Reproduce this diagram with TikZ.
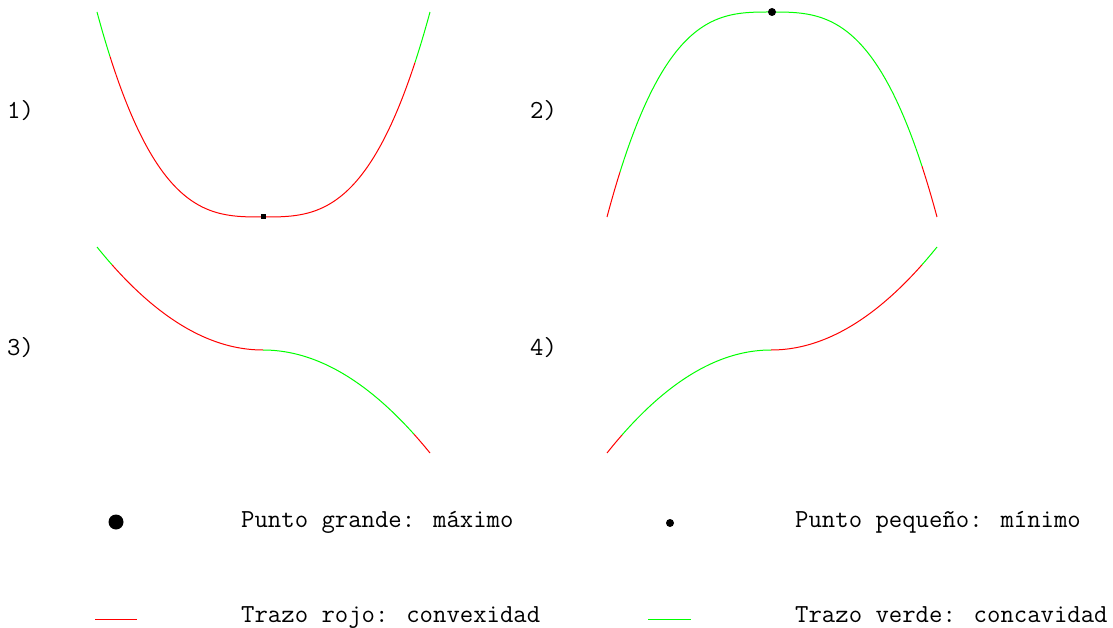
\documentclass[tikz,border=0pt]{standalone}
\begin{document}
\begin{tikzpicture}[x=1pt,y=-1pt,
  curve/.style={line width=1pt},
  conv/.style={curve,draw={rgb,255:red,255;green,0;blue,0}},
  conc/.style={curve,draw={rgb,255:red,0;green,255;blue,0}},
  lbl/.style={inner sep=0pt,anchor=base west,font=\ttfamily\fontsize{26}{30}\selectfont}]
\useasboundingbox (0,0) rectangle (1113,628);

% 1) cubic-like bowl, minimum at (263,217)
\draw[conc] plot[domain=97:110,samples=10] (\x,{217-205*((263-\x)/166)^3});
\draw[conv] plot[domain=110:263,samples=80] (\x,{217-205*((263-\x)/166)^3});
\draw[conv] plot[domain=263:415,samples=80] (\x,{217-205*((\x-263)/167)^3});
\draw[conc] plot[domain=415:430,samples=10] (\x,{217-205*((\x-263)/167)^3});
\node[fill=black,minimum size=5pt,inner sep=0pt] (min1) at (263,217) {};

% 2) mirrored bowl, maximum at (771,12)
\draw[conv] plot[domain=607:620,samples=10] (\x,{12+205*((771-\x)/164)^3});
\draw[conc] plot[domain=620:771,samples=80] (\x,{12+205*((771-\x)/164)^3});
\draw[conc] plot[domain=771:922,samples=80] (\x,{12+205*((\x-771)/166)^3});
\draw[conv] plot[domain=922:937,samples=10] (\x,{12+205*((\x-771)/166)^3});
\node[fill=black,circle,minimum size=8pt,inner sep=0pt] (max2) at (772,12) {};

% 3) decreasing, flat at (263,350)
\draw[conc] plot[domain=97:112,samples=10] (\x,{350-103*((263-\x)/166)^2});
\draw[conv] plot[domain=112:263,samples=80] (\x,{350-103*((263-\x)/166)^2});
\draw[conc] plot[domain=263:414,samples=80] (\x,{350+103*((\x-263)/167)^2});
\draw[conv] plot[domain=414:430,samples=10] (\x,{350+103*((\x-263)/167)^2});

% 4) increasing, flat at (771,350)
\draw[conv] plot[domain=607:622,samples=10] (\x,{350+103*((771-\x)/164)^2});
\draw[conc] plot[domain=622:771,samples=80] (\x,{350+103*((771-\x)/164)^2});
\draw[conv] plot[domain=771:922,samples=80] (\x,{350-103*((\x-771)/166)^2});
\draw[conc] plot[domain=922:937,samples=10] (\x,{350-103*((\x-771)/166)^2});

% case numbers
\node[lbl] (n1) at (7,119) {1)};
\node[lbl] (n2) at (530,119) {2)};
\node[lbl] (n3) at (7,355) {3)};
\node[lbl] (n4) at (530,355) {4)};

% legend
\node[fill=black,circle,minimum size=15pt,inner sep=0pt] (bigdot) at (116,522) {};
\node[lbl] (tbig) at (241,527) {Punto grande: máximo};
\node[fill=black,circle,minimum size=8pt,inner sep=0pt] (smalldot) at (670,523) {};
\node[lbl] (tsmall) at (795,527) {Punto pequeño: mínimo};
\coordinate (r1) at (95,619); \coordinate (r2) at (137,619);
\draw[conv] (r1) -- (r2);
\node[lbl] (tred) at (241,622) {Trazo rojo: convexidad};
\coordinate (g1) at (648,619); \coordinate (g2) at (691,619);
\draw[conc] (g1) -- (g2);
\node[lbl] (tgreen) at (795,622) {Trazo verde: concavidad};
\end{tikzpicture}
\end{document}
